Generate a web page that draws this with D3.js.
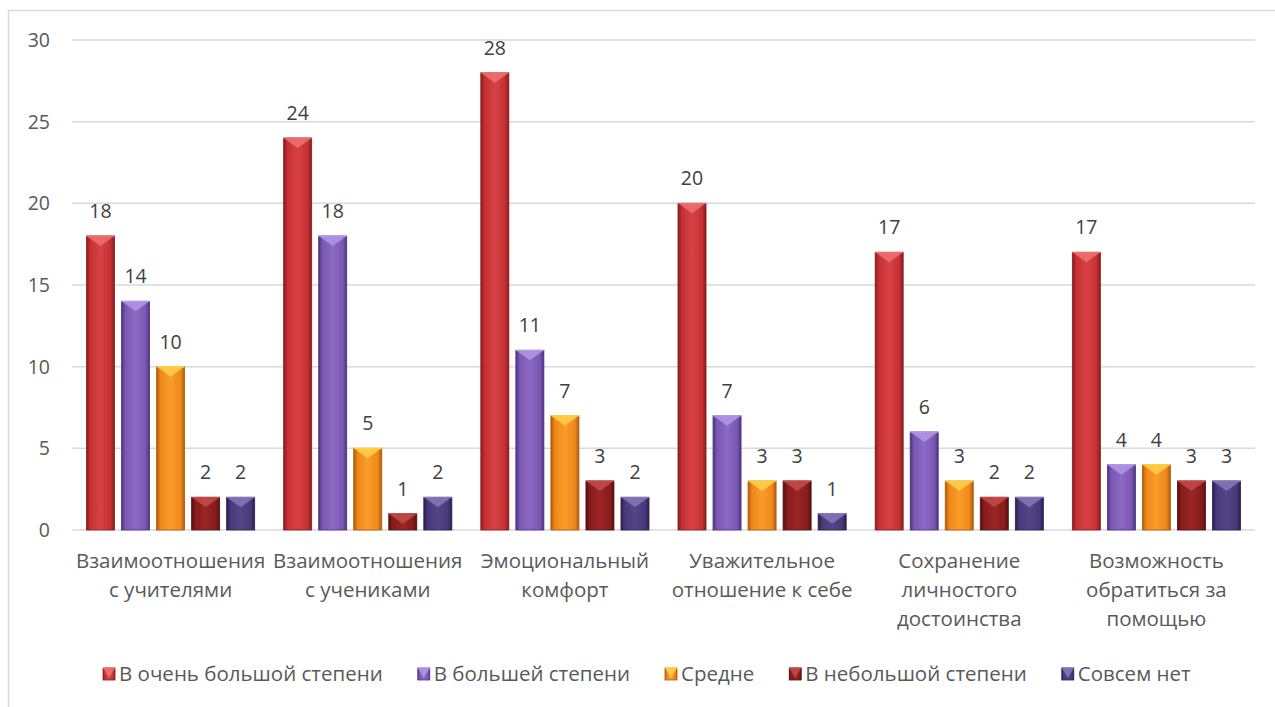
<!DOCTYPE html>
<html>
<head>
<meta charset="utf-8">
<script src="https://cdn.jsdelivr.net/npm/d3@7"></script>
<style>
  body { margin: 0; background: #fff; }
  svg { display: block; font-family: "Open Sans", "Noto Sans", sans-serif; }
  .tick-label { fill: #595959; font-size: 19.5px; }
  .value-label { fill: #404040; font-size: 19.5px; }
  .cat-label { fill: #595959; font-size: 20.5px; }
  .legend-text { fill: #595959; font-size: 20.5px; }
</style>
</head>
<body>
<script>
// data
var categories = [
  ["Взаимоотношения", "с учителями"],
  ["Взаимоотношения", "с учениками"],
  ["Эмоциональный", "комфорт"],
  ["Уважительное", "отношение к себе"],
  ["Сохранение", "личностого", "достоинства"],
  ["Возможность", "обратиться за", "помощью"]
];
var seriesNames = ["В очень большой степени", "В большей степени", "Средне", "В небольшой степени", "Совсем нет"];
var veryHigh = [18, 24, 28, 20, 17, 17];
var high     = [14, 18, 11, 7, 6, 4];
var medium   = [10, 5, 7, 3, 3, 4];
var low      = [2, 1, 3, 3, 2, 3];
var none     = [2, 2, 2, 1, 2, 3];
var yTicks = [0, 5, 10, 15, 20, 25, 30];

var seriesValues = [veryHigh, high, medium, low, none];

// colours: edge, base, light, top bevel
var palette = [
  {edge: "#8a1c1d", base: "#c43033", light: "#d94245", top: "#ee7674"},
  {edge: "#4c3380", base: "#7a58b2", light: "#8b69c4", top: "#b79ae9"},
  {edge: "#b05a0a", base: "#ee881a", light: "#f99c2a", top: "#ffd44c"},
  {edge: "#561010", base: "#881c1c", light: "#9a2525", top: "#c64e4e"},
  {edge: "#2a1f4e", base: "#48397a", light: "#554588", top: "#8a7abb"}
];

var W = 1275, H = 707;
var svg = d3.select("body").append("svg")
    .attr("width", W)
    .attr("height", H);

var defs = svg.append("defs");
palette.forEach(function(c, i) {
  var g = defs.append("linearGradient")
      .attr("id", "grad" + i)
      .attr("x1", "0%").attr("x2", "100%").attr("y1", "0%").attr("y2", "0%");
  g.append("stop").attr("offset", "0%").attr("stop-color", c.edge);
  g.append("stop").attr("offset", "14%").attr("stop-color", c.base);
  g.append("stop").attr("offset", "50%").attr("stop-color", c.light);
  g.append("stop").attr("offset", "86%").attr("stop-color", c.base);
  g.append("stop").attr("offset", "100%").attr("stop-color", c.edge);
});

// outer frame
svg.append("rect")
    .attr("x", 8.5).attr("y", 10.5)
    .attr("width", W).attr("height", H)
    .attr("fill", "none")
    .attr("stroke", "#d9d9d9")
    .attr("stroke-width", 1.5);

var plot = {left: 72, right: 1255, top: 40, bottom: 530};

var x0 = d3.scaleBand()
    .domain(d3.range(categories.length))
    .range([plot.left, plot.right])
    .paddingInner(0.147)
    .paddingOuter(0.0735);

var x1 = d3.scaleBand()
    .domain(d3.range(seriesNames.length))
    .range([0, x0.bandwidth()])
    .paddingInner(0.2)
    .paddingOuter(0);

var y = d3.scaleLinear()
    .domain([0, 30])
    .range([plot.bottom, plot.top]);

// gridlines
svg.append("g")
  .selectAll("line")
  .data(yTicks)
  .join("line")
    .attr("x1", plot.left).attr("x2", plot.right)
    .attr("y1", function(d) { return y(d); })
    .attr("y2", function(d) { return y(d); })
    .attr("stroke", "#d9d9d9")
    .attr("stroke-width", 1.5);

svg.append("g")
  .selectAll("text")
  .data(yTicks)
  .join("text")
    .attr("class", "tick-label")
    .attr("x", 50)
    .attr("y", function(d) { return y(d) + 7; })
    .attr("text-anchor", "end")
    .text(function(d) { return d; });

function drawBevelBar(g, bx, by, bw, bh, i) {
  var c = palette[i];
  g.append("rect")
      .attr("x", bx).attr("y", by)
      .attr("width", bw).attr("height", bh)
      .attr("fill", "url(#grad" + i + ")")
      .attr("stroke", c.edge)
      .attr("stroke-width", 0.8);
  var t = Math.min(10, bh);
  g.append("path")
      .attr("d", "M" + bx + "," + by + "L" + (bx + bw) + "," + by +
                 "L" + (bx + bw * 0.5) + "," + (by + t) + "Z")
      .attr("fill", c.top)
      .attr("opacity", 0.8);
  g.append("path")
      .attr("d", "M" + bx + "," + by + "L" + (bx + bw) + "," + by)
      .attr("stroke", c.top)
      .attr("stroke-width", 1.2);
}

// bars
var groups = svg.append("g")
  .selectAll("g")
  .data(categories)
  .join("g")
    .attr("transform", function(d, i) { return "translate(" + x0(i) + ",0)"; });

groups.each(function(cat, ci) {
  var g = d3.select(this);
  seriesValues.forEach(function(vals, si) {
    var v = vals[ci];
    var bx = x1(si), bw = x1.bandwidth();
    drawBevelBar(g, bx, y(v), bw, y(0) - y(v), si);
    g.append("text")
        .attr("class", "value-label")
        .attr("x", bx + bw / 2)
        .attr("y", y(v) - 18)
        .attr("text-anchor", "middle")
        .text(v);
  });
});

// category labels
svg.append("g")
  .selectAll("text")
  .data(categories)
  .join("text")
    .attr("class", "cat-label")
    .attr("text-anchor", "middle")
    .attr("x", function(d, i) { return x0(i) + x0.bandwidth() / 2; })
    .attr("y", 568)
  .selectAll("tspan")
  .data(function(d) { return d; })
  .join("tspan")
    .attr("x", function() { return d3.select(this.parentNode).attr("x"); })
    .attr("dy", function(d, i) { return i === 0 ? 0 : 29; })
    .text(function(d) { return d; });

// legend
var legend = svg.append("g");
var items = legend.selectAll("g")
  .data(seriesNames)
  .join("g");
items.each(function(name, i) {
  var g = d3.select(this);
  drawBevelBar(g, 0, -6, 12, 12, i);
  g.append("text")
      .attr("class", "legend-text")
      .attr("x", 16)
      .attr("y", 7)
      .text(name);
});
var gap = 35, pos = 0, offsets = [];
items.each(function() {
  offsets.push(pos);
  pos += this.getBBox().width + gap;
});
var total = pos - gap;
var startX = 647 - total / 2;
items.attr("transform", function(d, i) {
  return "translate(" + (startX + offsets[i]) + ",674)";
});
</script>
</body>
</html>
